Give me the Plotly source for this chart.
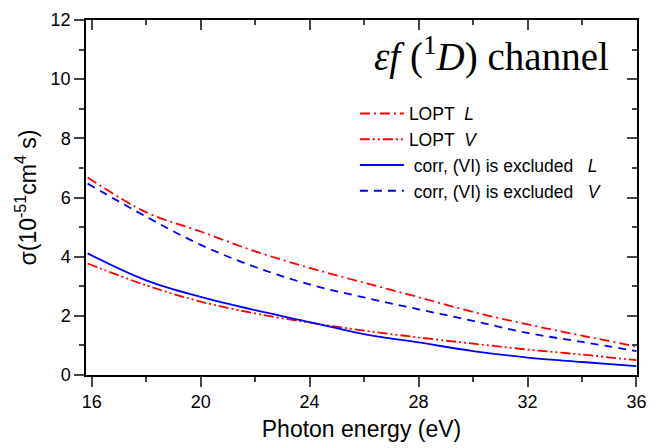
import plotly.graph_objects as go

energy = [15.85, 18, 20, 22, 24, 26, 28, 30, 32, 34, 36]
lopt_L = [6.68, 5.5, 4.85, 4.18, 3.62, 3.12, 2.63, 2.13, 1.71, 1.33, 0.96]
lopt_V = [3.77, 3.03, 2.48, 2.08, 1.77, 1.5, 1.27, 1.06, 0.86, 0.69, 0.50]
corr_L = [4.11, 3.2, 2.64, 2.19, 1.79, 1.38, 1.1, 0.81, 0.59, 0.44, 0.30]
corr_V = [6.47, 5.35, 4.4, 3.65, 3.06, 2.62, 2.22, 1.83, 1.42, 1.12, 0.81]

names = ["LOPT\u00a0\u00a0<i>L</i>", "LOPT\u00a0\u00a0<i>V</i>",
         "\u00a0corr, (VI) is excluded\u00a0\u00a0\u00a0<i>L</i>",
         "\u00a0corr, (VI) is excluded\u00a0\u00a0\u00a0<i>V</i>"]

RED = "#FF0000"
BLUE = "#0000FF"

fig = go.Figure()
fig.add_trace(go.Scatter(x=energy, y=lopt_L, mode="lines", name=names[0], line_shape="spline",
                         line=dict(color=RED, width=1.8, dash="10px,4px,2px,4px")))
fig.add_trace(go.Scatter(x=energy, y=lopt_V, mode="lines", name=names[1], line_shape="spline",
                         line=dict(color=RED, width=1.8, dash="10px,3px,2px,3px,2px,3px")))
fig.add_trace(go.Scatter(x=energy, y=corr_L, mode="lines", name=names[2], line_shape="spline",
                         line=dict(color=BLUE, width=1.8)))
fig.add_trace(go.Scatter(x=energy, y=corr_V, mode="lines", name=names[3], line_shape="spline",
                         line=dict(color=BLUE, width=1.8, dash="8px,6px")))

xr = [15.79, 36.02]
yr = [0, 12]
font = "Liberation Sans, Arial, sans-serif"

fig.update_layout(
    width=662, height=448,
    margin=dict(l=86, r=25, t=20, b=73, autoexpand=False),
    plot_bgcolor="white", paper_bgcolor="white",
    font=dict(family=font, size=18, color="black"),
    showlegend=True,
    legend=dict(x=0.488, y=0.787, xanchor="left", yanchor="top",
                bgcolor="rgba(0,0,0,0)", font=dict(size=17.5, family=font),
                itemwidth=44, tracegroupgap=0),
    xaxis=dict(range=xr, tickvals=[16, 20, 24, 28, 32, 36], ticks="outside", ticklen=10,
               tickwidth=1.5, showline=True, linewidth=1.5, linecolor="black",
               showgrid=False, zeroline=False, automargin=False,
               minor=dict(tickvals=[18, 22, 26, 30, 34], ticks="outside", ticklen=5, tickwidth=1.5),
               tickfont=dict(size=18),
               title=dict(text="Photon energy (eV)", font=dict(size=23), standoff=10)),
    xaxis2=dict(range=xr, overlaying="x", side="top", tickvals=[16, 20, 24, 28, 32, 36],
                ticks="inside", ticklen=10, tickwidth=1.5, showline=True, linewidth=1.5,
                linecolor="black", showticklabels=False, showgrid=False, zeroline=False,
                automargin=False,
                minor=dict(tickvals=[18, 22, 26, 30, 34], ticks="inside", ticklen=5, tickwidth=1.5)),
    yaxis=dict(range=yr, tickvals=[0, 2, 4, 6, 8, 10, 12], ticks="outside", ticklen=10,
               tickwidth=1.5, showline=True, linewidth=1.5, linecolor="black",
               showgrid=False, zeroline=False, automargin=False,
               minor=dict(tickvals=[1, 3, 5, 7, 9, 11], ticks="outside", ticklen=5, tickwidth=1.5),
               tickfont=dict(size=18),
               title=dict(text="σ(10<sup>-51</sup>cm<sup>4</sup> s)", font=dict(size=23), standoff=8)),
    yaxis2=dict(range=yr, overlaying="y", side="right", tickvals=[0, 2, 4, 6, 8, 10, 12],
                ticks="inside", ticklen=10, tickwidth=1.5, showline=True, linewidth=1.5,
                linecolor="black", showticklabels=False, showgrid=False, zeroline=False,
                automargin=False,
                minor=dict(tickvals=[1, 3, 5, 7, 9, 11], ticks="inside", ticklen=5, tickwidth=1.5)),
)

# invisible trace to activate the mirrored axes
fig.add_trace(go.Scatter(x=[xr[0]], y=[0], xaxis="x2", yaxis="y2", mode="markers",
                         marker=dict(opacity=0), showlegend=False, hoverinfo="skip"))

fig.add_annotation(text="<i>εf</i> (<sup>1</sup><i>D</i>) channel", xref="paper", yref="paper",
                   x=(491 - 86) / 551, y=1 - (55 - 20) / 355, xanchor="center", yanchor="middle",
                   showarrow=False,
                   font=dict(family="Liberation Serif, Times New Roman, serif", size=39, color="black"))

fig.write_html("out.html", config={"displayModeBar": False},
               post_script="document.body.style.margin='0';document.body.style.overflow='hidden';")
